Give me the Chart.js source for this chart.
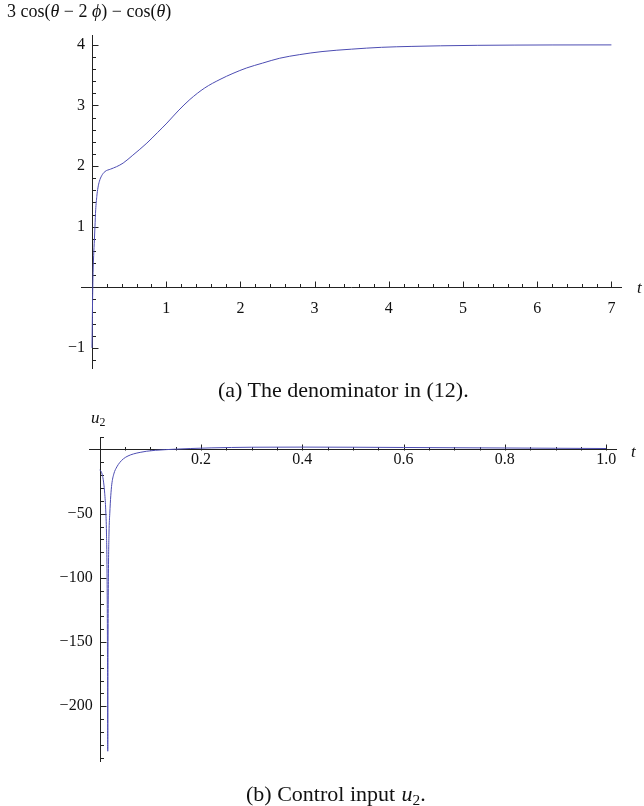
<!DOCTYPE html>
<html>
<head>
<meta charset="utf-8">
<script src="https://cdn.jsdelivr.net/npm/chart.js@4.4.0/dist/chart.umd.min.js"></script>
<style>
  body { margin: 0; width: 644px; height: 806px; position: relative; background: #fff; overflow: hidden;
         font-family: "Liberation Serif", "Times New Roman", serif; }
  canvas { position: absolute; left: 0; }
  .lbl { position: absolute; white-space: pre; line-height: 1; color: #111; }
  .lbl sub { font-size: 0.7em; vertical-align: -0.25em; font-style: normal; }
</style>
</head>
<body>
<canvas id="denomChart" width="644" height="400" style="top:0"></canvas>
<canvas id="inputChart" width="644" height="406" style="top:400px"></canvas>

<div class="lbl" style="left:7px; top:2px; font-size:18px">3 cos(<i>θ</i> − 2 <i>ϕ</i>) − cos(<i>θ</i>)</div>
<div class="lbl" style="left:637px; top:279px; font-size:17px"><i>t</i></div>
<div class="lbl" style="left:218px; top:379px; font-size:22px">(a) The denominator in (12).</div>

<div class="lbl" style="left:91px; top:409px; font-size:17px"><i>u</i><sub>2</sub></div>
<div class="lbl" style="left:631px; top:443px; font-size:17px"><i>t</i></div>
<div class="lbl" style="left:246px; top:783px; font-size:22px">(b) Control input <i style="margin-left:1px">u</i><sub>2</sub>.</div>

<script>
// (a) denominator 3cos(theta - 2phi) - cos(theta) over time
const denomT = [0, 0.004, 0.008, 0.013, 0.02, 0.03, 0.04, 0.05, 0.065, 0.08,
                0.1, 0.13, 0.175, 0.25, 0.33, 0.42, 0.55, 0.74, 0.88, 1.01,
                1.16, 1.32, 1.52, 1.725, 1.9, 2.085, 2.3, 2.53, 2.8, 3.1,
                3.5, 3.9, 4.3, 4.7, 5.2, 5.7, 6.2, 7.0];
const denomV = [-1.0, -0.6, -0.2, 0.15, 0.45, 0.72, 1.0, 1.28, 1.5, 1.64,
                1.75, 1.84, 1.91, 1.95, 1.99, 2.05, 2.18, 2.38, 2.55, 2.71,
                2.91, 3.10, 3.29, 3.43, 3.53, 3.62, 3.70, 3.78, 3.84, 3.89,
                3.93, 3.96, 3.975, 3.985, 3.993, 3.997, 3.999, 4.0];
const denomTicksX = [1, 2, 3, 4, 5, 6, 7];
const denomTicksY = [-1, 1, 2, 3, 4];

// (b) control input u2 over time
const inputT = [0, 0.002, 0.004, 0.006, 0.008, 0.010, 0.012, 0.0135, 0.0147, 0.0155,
                0.016, 0.0165, 0.0173, 0.0185, 0.020, 0.022, 0.024, 0.028, 0.034, 0.040,
                0.047, 0.056, 0.067, 0.080, 0.093, 0.11, 0.13, 0.15, 0.18, 0.22,
                0.26, 0.30, 0.40, 0.50, 0.60, 0.70, 0.80, 0.90, 1.00];
const inputV = [-16, -16.5, -18, -21, -26, -34, -47, -65, -100, -160,
                -235, -160, -100, -65, -50, -36, -27, -19, -13.5, -10,
                -7.2, -5, -3.4, -2.2, -1.3, -0.6, -0.1, 0.3, 0.8, 1.3,
                1.6, 1.8, 1.9, 1.8, 1.6, 1.4, 1.2, 1.0, 0.8];
const inputTicksX = [0.2, 0.4, 0.6, 0.8, 1.0];
const inputTicksY = [-200, -150, -100, -50];

const lineColor = 'rgb(76, 76, 178)';
const axisColor = '#222';

function steps(from, to, step) {
    const out = [];
    for (let v = from; v <= to + step / 2; v += step) out.push(Math.round(v * 1000) / 1000);
    return out;
}

function fmt(v, digits) {
    const s = Math.abs(v).toFixed(digits);
    return v < 0 ? '\u2212' + s : s;
}

// Mathematica style axes: y axis line plus tick marks pointing up / right,
// drawn before the curve so the curve stays on top
const axisTicks = {
    id: 'axisTicks',
    beforeDatasetsDraw(chart, args, opts) {
        const { ctx, chartArea, scales: { x, y } } = chart;
        const x0 = Math.round(x.getPixelForValue(0)) + 0.5;
        const y0 = Math.round(y.getPixelForValue(0)) + 0.5;
        ctx.save();
        ctx.strokeStyle = axisColor;
        ctx.lineWidth = 1;
        ctx.beginPath();
        ctx.moveTo(x0, Math.round(chartArea.top));
        ctx.lineTo(x0, Math.round(chartArea.bottom));
        opts.xMinor.forEach(v => {
            const len = opts.xMajor.includes(v) ? 6 : 3.5;
            const px = Math.round(x.getPixelForValue(v)) + 0.5;
            ctx.moveTo(px, y0); ctx.lineTo(px, y0 - len);
        });
        opts.yMinor.forEach(v => {
            const len = opts.yMajor.includes(v) ? 6 : 3.5;
            const py = Math.round(y.getPixelForValue(v)) + 0.5;
            ctx.moveTo(x0, py); ctx.lineTo(x0 + len, py);
        });
        ctx.stroke();
        ctx.restore();
    }
};

function makeChart(id, ts, vs, cfg) {
    // y labels sit a few pixels left of the axis: express that gap in x units
    const areaW = 644 - cfg.padding.left - cfg.padding.right;
    const yLabelAt = -cfg.yGap * (cfg.xMax - cfg.xMin) / areaW;

    return new Chart(document.getElementById(id), {
        type: 'line',
        data: {
            datasets: [{
                data: ts.map((t, i) => ({ x: t, y: vs[i] })),
                borderColor: lineColor,
                borderWidth: 1,
                pointRadius: 0,
                cubicInterpolationMode: 'monotone',
                fill: false
            }]
        },
        options: {
            responsive: false,
            animation: false,
            devicePixelRatio: 1,
            layout: { padding: cfg.padding },
            plugins: {
                legend: { display: false },
                tooltip: { enabled: false },
                axisTicks: cfg.ticks
            },
            scales: {
                x: {
                    type: 'linear',
                    min: cfg.xMin, max: cfg.xMax,
                    position: { y: 0 },
                    afterFit: s => { s.height = 0; },
                    afterBuildTicks: s => { s.ticks = cfg.xTicks.map(v => ({ value: v })); },
                    grid: { display: false, drawTicks: false },
                    border: { display: true, color: axisColor, width: 1 },
                    ticks: {
                        padding: cfg.xPad,
                        maxRotation: 0,
                        autoSkip: false,
                        color: '#111',
                        font: { family: 'Liberation Serif', size: 16 },
                        callback: v => fmt(v, cfg.xDigits)
                    }
                },
                y: {
                    type: 'linear',
                    min: cfg.yMin, max: cfg.yMax,
                    position: { x: yLabelAt },
                    afterFit: s => { s.width = 0; },
                    afterBuildTicks: s => { s.ticks = cfg.yTicks.map(v => ({ value: v })); },
                    grid: { display: false, drawTicks: false },
                    border: { display: false },
                    ticks: {
                        autoSkip: false,
                        color: '#111',
                        font: { family: 'Liberation Serif', size: 16 },
                        callback: v => fmt(v, 0)
                    }
                }
            }
        },
        plugins: [axisTicks]
    });
}

makeChart('denomChart', denomT, denomV, {
    padding: { left: 81.6, right: 22.2, top: 34.6, bottom: 30.9 },
    xMin: -0.14, xMax: 7.14, yMin: -1.35, yMax: 4.17,
    xTicks: denomTicksX, yTicks: denomTicksY, xDigits: 0,
    xPad: 12, yGap: 7,
    ticks: {
        xMajor: denomTicksX, xMinor: steps(0.2, 7, 0.2),
        yMajor: denomTicksY, yMinor: steps(-1.2, 4, 0.2).filter(v => v !== 0)
    }
});

makeChart('inputChart', inputT, inputV, {
    padding: { left: 89, right: 27.7, top: 36.7, bottom: 44 },
    xMin: -0.021, xMax: 1.02, yMin: -243.4, yMax: 10,
    xTicks: inputTicksX, yTicks: inputTicksY, xDigits: 1,
    xPad: 1, yGap: 7,
    ticks: {
        xMajor: inputTicksX, xMinor: steps(0.05, 1, 0.05),
        yMajor: inputTicksY, yMinor: steps(-240, 10, 10).filter(v => v !== 0)
    }
});
</script>
</body>
</html>
